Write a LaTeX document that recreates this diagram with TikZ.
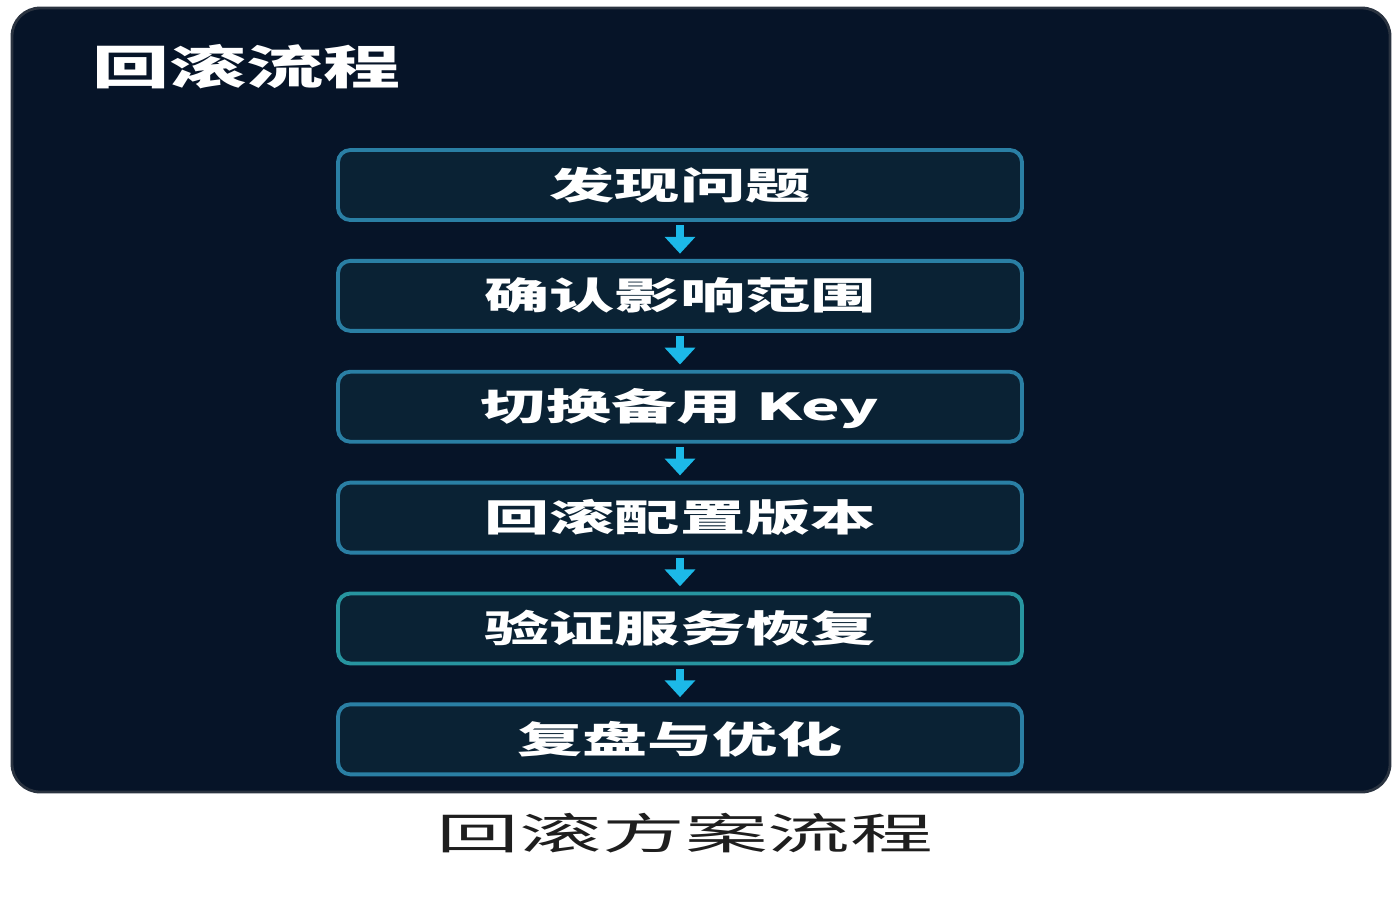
\documentclass[tikz,border=0pt]{standalone}
\usepackage{fontspec}
\usetikzlibrary{positioning,arrows.meta}
\newfontfamily\titlecjk[FakeStretch=1.66]{Noto Sans CJK SC}
\newfontfamily\stepcjk[FakeStretch=1.75]{Noto Sans CJK SC}
\newfontfamily\captioncjk[FakeStretch=1.93]{Noto Sans CJK SC}
\definecolor{panelbg}{HTML}{061428}
\definecolor{panelrim}{HTML}{2A3340}
\definecolor{boxfill}{HTML}{0A2234}
\definecolor{boxline}{HTML}{2A7FA4}
\definecolor{boxteal}{HTML}{2795A0}
\definecolor{flowcyan}{HTML}{1CB9E8}
\definecolor{captiongray}{HTML}{1E1E1E}
\begin{document}
\begin{tikzpicture}[
    stepbox/.style={draw=boxline, line width=1.1pt, fill=boxfill, rounded corners=3.5pt,
        minimum width=6.84cm, minimum height=0.70cm, inner sep=0pt,
        text height=0.32cm, text depth=0.04cm, text=white,
        font=\stepcjk\bfseries\fontsize{10.6}{12}\selectfont},
    flow/.style={-{Triangle[width=8.5pt,length=4.8pt]}, draw=flowcyan, line width=2pt,
        shorten <=1pt, shorten >=1.5pt},
    node distance=0.37cm
]
    % Fix the page size
    \useasboundingbox (0,0) rectangle (14,-9);

    % Draw the dark panel
    \draw[panelrim, fill=panelbg, line width=0.8pt, rounded corners=8pt] (0.12,-0.08) rectangle (13.9,-7.92);

    % Draw the panel title
    \node[anchor=west, text=white, font=\titlecjk\bfseries\fontsize{13.2}{15}\selectfont] (title) at (0.80,-0.67) {回滚流程};

    % Draw the steps
    \node[stepbox] (find) at (6.80,-1.85) {发现问题};
    \node[stepbox, below=of find] (scope) {确认影响范围};
    \node[stepbox, below=of scope] (switch) {切换备用 Key};
    \node[stepbox, below=of switch] (revert) {回滚配置版本};
    \node[stepbox, draw=boxteal, below=of revert] (verify) {验证服务恢复};
    \node[stepbox, below=of verify] (review) {复盘与优化};

    % Draw the arrows between the steps
    \draw[flow] (find) -- (scope);
    \draw[flow] (scope) -- (switch);
    \draw[flow] (switch) -- (revert);
    \draw[flow] (revert) -- (verify);
    \draw[flow] (verify) -- (review);

    % Label the figure
    \node[text=captiongray, font=\captioncjk\fontsize{12.2}{14}\selectfont] (caption) at (6.85,-8.33) {回滚方案流程};

\end{tikzpicture}
\end{document}
